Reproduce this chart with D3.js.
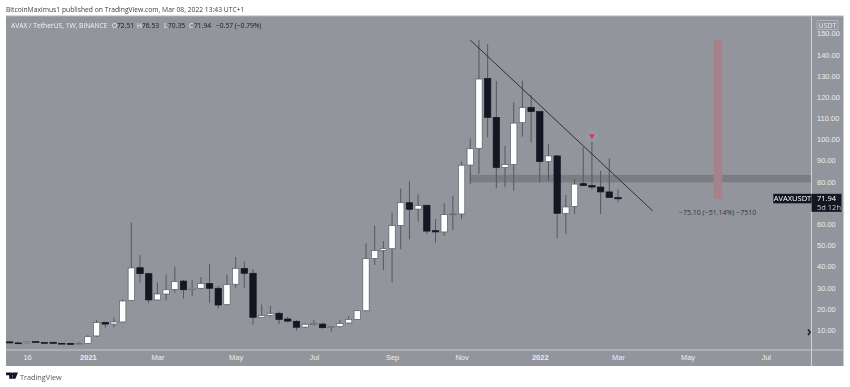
<!DOCTYPE html>
<html>
<head>
<meta charset="utf-8">
<script src="https://cdn.jsdelivr.net/npm/d3@7"></script>
<style>
  html, body { margin: 0; padding: 0; background: #fff; overflow: hidden; }
  svg { display: block; filter: blur(0.35px); font-family: "Open Sans", sans-serif; }
</style>
</head>
<body>
<script>
// weekly candles, oldest first (Nov 2 2020 .. Mar 7 2022)
const opens = [4.4,3.9,3.9,4.5,4.1,4.2,3.7,3.7,3.3,3.7,7.2,13.6,12.8,13.8,24.0,39.4,36.6,24.2,27.0,29.2,33.1,29.2,29.7,31.9,29.7,22.0,31.6,39.1,36.8,16.0,16.9,17.9,15.2,14.1,11.4,12.7,12.8,11.3,11.6,13.3,15.0,19.1,43.8,47.6,48.4,59.4,70.1,67.1,68.9,56.9,56.3,64.7,64.8,87.9,95.8,128.7,110.4,86.7,88.2,107.9,115.1,113.1,89.5,92.2,65.1,68.4,79.1,78.2,77.5,75.2,72.51];
const highs = [4.6,4.2,4.6,4.9,4.3,4.4,3.9,3.9,4.2,7.6,14.7,13.9,16.0,24.5,60.7,45.3,37.0,32.5,36.1,39.9,33.6,33.5,35.0,41.2,30.8,36.1,44.5,42.3,38.8,22.0,21.3,18.7,16.3,14.7,13.1,14.7,13.5,11.9,14.7,16.6,19.4,50.9,59.3,52.0,65.4,76.7,80.2,74.1,69.0,62.4,69.8,73.3,89.5,100.5,146.9,145.0,127.6,96.9,117.5,127.7,121.0,113.5,97.7,92.5,73.7,81.3,96.3,98.9,85.1,91.2,76.53];
const lows = [3.7,3.7,3.7,3.9,3.8,3.5,3.4,3.0,3.2,3.4,6.7,11.1,11.3,13.5,23.9,32.4,22.6,23.9,23.9,27.6,24.8,26.1,29.2,22.9,20.2,21.6,30.0,30.0,12.5,15.8,16.3,12.8,13.5,9.7,10.8,12.0,10.6,9.2,11.1,13.0,14.7,18.8,40.7,38.3,32.5,48.1,52.8,61.2,55.3,51.2,54.4,57.2,62.3,78.9,83.7,101.0,76.9,77.4,75.8,101.3,98.5,79.6,80.5,53.3,55.3,64.8,78.0,76.4,64.8,72.5,70.35];
const closes = [3.9,3.85,4.4,4.1,4.0,3.7,3.65,3.2,3.7,6.85,13.5,12.8,13.8,23.7,39.3,36.6,24.2,27.0,29.0,32.8,29.0,29.7,31.9,29.7,21.8,31.4,39.1,36.8,16.0,16.8,17.7,15.0,14.2,11.3,12.7,13.0,11.1,11.6,13.1,15.0,19.1,43.7,47.5,48.4,59.3,70.1,67.0,68.7,56.7,56.3,64.5,64.8,87.8,95.6,128.5,110.4,86.7,88.1,107.7,115.0,113.1,89.5,92.2,65.1,68.1,78.9,78.2,77.5,75.2,72.6,71.94];

const priceTicks = [10,20,30,40,50,60,80,90,100,110,120,130,140,150];
const timeTicks = [[2020,10,16],[2021,0,4],[2021,2,1],[2021,4,3],[2021,6,5],[2021,8,6],[2021,10,1],[2022,0,3],[2022,2,7],[2022,4,2],[2022,6,4]];
const timeLabels = ["16","2021","Mar","May","Jul","Sep","Nov","2022","Mar","May","Jul"];

const lastClose = 71.94;
const trendDates = [[2021,10,8],[2022,3,4]];
const trendValues = [146.9,66.2];
const zoneValues = [83.2,79.7];
const zoneStart = [2021,10,8];
const targetDates = [[2022,4,23],[2022,4,30]];
const targetValues = [146.9,72];
const arrowDate = [2022,1,14];
const arrowValue = 101.6;

const toDate = d => new Date(Date.UTC(d[0], d[1], d[2]));
const dates = opens.map((d, i) => d3.utcWeek.offset(new Date(Date.UTC(2020,10,2)), i));

// ================== LAYOUT ===========================
const width = 850, height = 387;
const panel = {left: 6, right: 843.5, top: 16, bottom: 366};
const axisX = 811.5, axisY = 350;

const bg = "#93959d", ink = "#131722", wick = "#55575f", axisText = "#eceded";

const svg = d3.select("body").append("svg")
  .attr("width", width)
  .attr("height", height);

const x = d3.scaleUtc()
  .domain([toDate([2021,0,4]), toDate([2022,2,7])])
  .range([87.9, 618]);
const y = d3.scaleLinear().domain([10,150]).range([330,33.5]);

svg.append("rect")
  .attr("x", panel.left).attr("y", panel.top)
  .attr("width", panel.right - panel.left).attr("height", panel.bottom - panel.top)
  .attr("fill", bg);

svg.append("clipPath").attr("id", "plot").append("rect")
  .attr("x", panel.left).attr("y", panel.top)
  .attr("width", axisX - panel.left).attr("height", axisY - panel.top);

const plot = svg.append("g").attr("clip-path", "url(#plot)");

// ============ drawings under the candles ==============
plot.append("rect")
  .attr("x", x(toDate(zoneStart)))
  .attr("y", y(zoneValues[0]))
  .attr("width", axisX - x(toDate(zoneStart)))
  .attr("height", y(zoneValues[1]) - y(zoneValues[0]))
  .attr("fill", "#7c7d84");

plot.append("rect")
  .attr("x", x(toDate(targetDates[0])))
  .attr("y", y(targetValues[0]))
  .attr("width", x(toDate(targetDates[1])) - x(toDate(targetDates[0])))
  .attr("height", y(targetValues[1]) - y(targetValues[0]))
  .attr("fill", "#a5818a");

// ============ candles =================================
const barWidth = 6.4;
const candles = plot.selectAll("g.candle")
  .data(opens).enter()
  .append("g")
  .attr("class", "candle");

candles.append("line")
  .attr("x1", (d, i) => x(dates[i]))
  .attr("x2", (d, i) => x(dates[i]))
  .attr("y1", (d, i) => y(highs[i]))
  .attr("y2", (d, i) => y(lows[i]))
  .attr("stroke", wick)
  .attr("stroke-width", 1);

candles.append("rect")
  .attr("x", (d, i) => x(dates[i]) - barWidth / 2)
  .attr("y", (d, i) => y(Math.max(d, closes[i])))
  .attr("width", barWidth)
  .attr("height", (d, i) => Math.max(0.8, Math.abs(y(d) - y(closes[i]))))
  .attr("fill", (d, i) => closes[i] >= d ? "#fff" : ink)
  .attr("stroke", (d, i) => closes[i] >= d ? "#5c5e66" : ink)
  .attr("stroke-width", 0.7);

// trend line
plot.append("line")
  .attr("x1", x(toDate(trendDates[0]))).attr("y1", y(trendValues[0]))
  .attr("x2", x(toDate(trendDates[1]))).attr("y2", y(trendValues[1]))
  .attr("stroke", "#2e3036")
  .attr("stroke-width", 1);

// red arrow over the wick
const ax = x(toDate(arrowDate)), ay = y(arrowValue);
plot.append("circle").attr("cx", ax).attr("cy", ay).attr("r", 6).attr("fill", "#8fa3a8").attr("opacity", 0.5);
plot.append("path")
  .attr("d", d3.symbol(d3.symbolTriangle, 14))
  .attr("transform", `translate(${ax},${ay}) rotate(180)`)
  .attr("fill", "#e0304e");

plot.append("text")
  .attr("x", x(toDate(targetDates[0])) + 4)
  .attr("y", y(targetValues[1]) + 16)
  .attr("text-anchor", "middle")
  .attr("font-size", 7)
  .attr("fill", "#33353b")
  .text("−75.10 (−51.14%) −7510");

// ============ axes ====================================
svg.append("line").attr("x1", axisX).attr("x2", axisX)
  .attr("y1", panel.top).attr("y2", panel.bottom)
  .attr("stroke", "#d2d3d6").attr("stroke-width", 1);
svg.append("line").attr("x1", panel.left).attr("x2", panel.right)
  .attr("y1", axisY).attr("y2", axisY)
  .attr("stroke", "#c6c7cb").attr("stroke-width", 1);
svg.append("line").attr("x1", panel.left).attr("x2", panel.right)
  .attr("y1", panel.top).attr("y2", panel.top)
  .attr("stroke", "#b4b5ba").attr("stroke-width", 1);

const priceAxis = d3.axisRight(y)
  .tickValues(priceTicks)
  .tickSize(0)
  .tickPadding(5.5)
  .tickFormat(d3.format(".2f"));
const gy = svg.append("g").attr("transform", `translate(${axisX},0)`).call(priceAxis);
gy.select(".domain").remove();
gy.selectAll("text").attr("fill", axisText).attr("font-size", 7.5).attr("font-family", "inherit");

const timeAxis = d3.axisBottom(x)
  .tickValues(timeTicks.map(toDate))
  .tickSize(0)
  .tickPadding(4.5)
  .tickFormat((d, i) => timeLabels[i]);
const gx = svg.append("g").attr("transform", `translate(0,${axisY})`).call(timeAxis);
gx.select(".domain").remove();
gx.selectAll("text").attr("fill", axisText).attr("font-size", 7.5).attr("font-family", "inherit")
  .attr("font-weight", (d, i) => timeLabels[i].length === 4 ? 600 : 400);

// USDT box
svg.append("rect").attr("x", 817).attr("y", 20.5).attr("width", 21).attr("height", 9)
  .attr("fill", "none").attr("stroke", "#c6c7cb").attr("stroke-width", 0.6).attr("rx", 1);
svg.append("text").attr("x", 827.5).attr("y", 27.8).attr("text-anchor", "middle")
  .attr("font-size", 7).attr("fill", axisText).text("USDT");

// last price labels
const py = y(lastClose);
svg.append("rect").attr("x", 773.3).attr("y", py - 5).attr("width", 38.2).attr("height", 9.5).attr("fill", ink);
svg.append("rect").attr("x", axisX).attr("y", py - 5).attr("width", 30).attr("height", 18).attr("fill", ink);
svg.append("text").attr("x", 792.5).attr("y", py + 2.4).attr("text-anchor", "middle")
  .attr("font-size", 7.5).attr("fill", "#fff").text("AVAXUSDT");
svg.append("text").attr("x", 817).attr("y", py + 2.4)
  .attr("font-size", 7.5).attr("fill", "#fff").text("71.94");
svg.append("text").attr("x", 817).attr("y", py + 11)
  .attr("font-size", 7.5).attr("fill", "#c9cace").text("5d 12h");

// scroll chevron
svg.append("path").attr("d", "M808 329.5l2.2 2.8l-2.2 2.8").attr("fill", "none")
  .attr("stroke", ink).attr("stroke-width", 1.4);

// ============ header / footer text ====================
svg.append("text").attr("x", 6).attr("y", 12)
  .attr("font-size", 6.75).attr("fill", "#3c3e44")
  .text("BitcoinMaximus1 published on TradingView.com, Mar 08, 2022 13:43 UTC+1");

const legend = svg.append("text").attr("y", 28).attr("font-size", 6.7);
const legendParts = [
  ["AVAX / TetherUS, 1W, BINANCE", "#f4f4f5", 11],
  ["O", "#f4f4f5", 112], ["72.51", ink, 117],
  ["H", "#f4f4f5", 137], ["76.53", ink, 142],
  ["L", "#f4f4f5", 164], ["70.35", ink, 168],
  ["C", "#f4f4f5", 189], ["71.94", ink, 194],
  ["−0.57 (−0.79%)", ink, 216]
];
legend.selectAll("tspan").data(legendParts).enter().append("tspan")
  .attr("x", d => d[2]).attr("fill", d => d[1]).text(d => d[0]);

// TradingView logo
svg.append("path").attr("d", "M6 372.5h6.2v6.3h-3v-3.6H6z M13 372.5h5l-2.6 6.3h-3.2z").attr("fill", "#131722");
svg.append("circle").attr("cx", 13).attr("cy", 374).attr("r", 1.2).attr("fill", "#131722");
svg.append("text").attr("x", 20).attr("y", 379.5)
  .attr("font-size", 7.3).attr("fill", "#55575e").text("TradingView");
</script>
</body>
</html>
